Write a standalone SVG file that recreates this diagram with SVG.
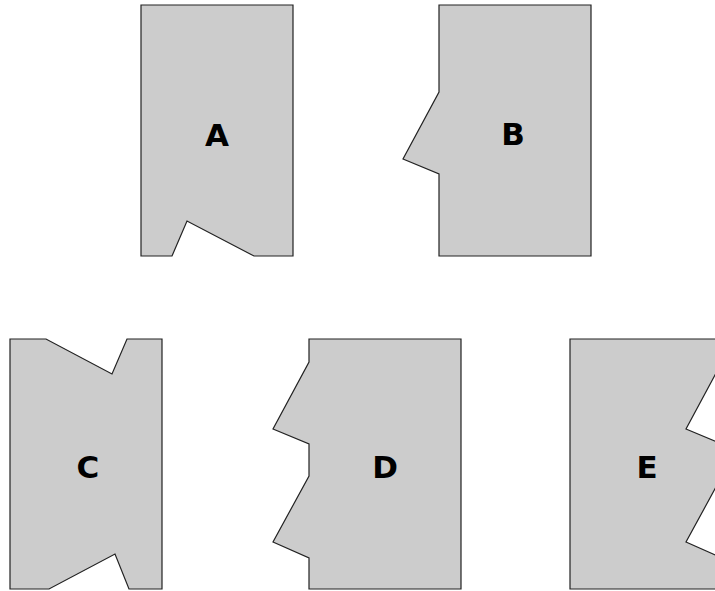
<svg xmlns="http://www.w3.org/2000/svg" width="715" height="591" viewBox="0 0 715 591">
<style>
.s{fill:#cccccc;stroke:#222222;stroke-width:1.2;stroke-linejoin:miter}
.t{font-family:"DejaVu Sans",sans-serif;font-weight:bold;font-size:31px;fill:#000;text-anchor:middle}
</style>
<rect width="715" height="591" fill="#fff"/>
<g id="A"><path class="s" d="M141,5 H293 V256 H254 L187,221 L172,256 H141 Z"/><text class="t" x="217" y="146">A</text></g>
<g id="B"><path class="s" d="M439,5 H591 V256 H439 V174 L403,159 L439,92 Z"/><text class="t" x="513" y="145">B</text></g>
<g id="C"><path class="s" d="M10,339 H46 L112,374 L127,339 H162 V589 H129 L115,554 L49,589 H10 Z"/><text class="t" x="88" y="478">C</text></g>
<g id="D"><path class="s" d="M309,339 H461 V589 H309 V558 L273,542 L309,476 V444 L273,429 L309,362 Z"/><text class="t" x="385" y="478">D</text></g>
<g id="E"><path class="s" d="M570,339 H722 V362 L686,429 L722,444 V476 L686,542 L722,558 V589 H570 Z"/><text class="t" x="647" y="478">E</text></g>
<g id="connectors"/>
</svg>
